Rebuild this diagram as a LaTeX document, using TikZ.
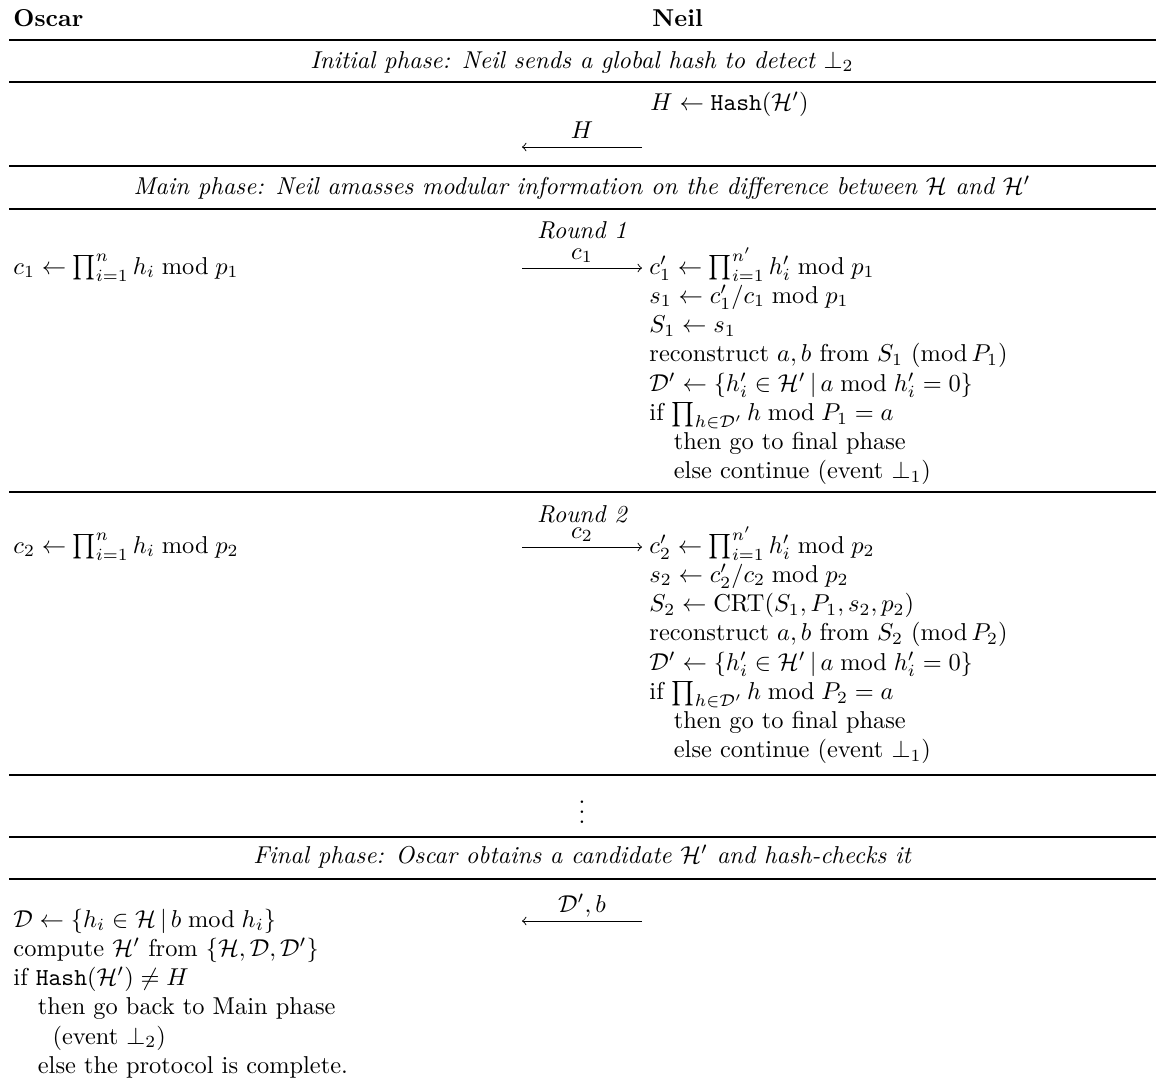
\documentclass[tikz,border=0pt]{standalone}
\usepackage{amsmath,amssymb}
\usetikzlibrary{positioning}

\tikzset{
  txt/.style={inner sep=0pt, anchor=base west},
  phase/.style={inner sep=0pt, anchor=base, font=\itshape},
  rule/.style={line width=0.6pt},
  msg/.style={->, line width=0.4pt},
  msglabel/.style={anchor=base, inner sep=0pt, yshift=3.6pt},
}
\newcommand{\Hset}{\mathcal{H}}
\newcommand{\Dset}{\mathcal{D}}
\newcommand{\hashfn}{\texttt{Hash}}

\begin{document}
\begin{tikzpicture}[x=0.4098pt, y=-0.4098pt]
    \useasboundingbox (0,0) rectangle (1156,1086);
    % rules
    \foreach \y in {40,82,166,209,492,775,837,879}
        \draw[rule] (9,\y) -- (1156,\y);
    % header
    \node[txt, font=\bfseries] (oscar) at (13,26) {Oscar};
    \node[txt, font=\bfseries] (neil) at (652,26) {Neil};
    % initial phase
    \node[phase] (initial) at (582,68) {Initial phase: Neil sends a global hash to detect $\bot_2$};
    \node[txt] (hashH) at (650,110) {$H \leftarrow \hashfn(\Hset')$};
    \coordinate (h0L) at (522,147);
    \coordinate (h0R) at (642,147);
    \draw[msg] (h0R) -- node[msglabel] {$H$} (h0L);
    % main phase
    \node[phase] (main) at (582,194) {Main phase: Neil amasses modular information on the difference between $\Hset$ and $\Hset'$};
    \node[phase] (round1) at (582,238) {Round 1};
    \node[txt] (oscar1) at (13,274) {$c_1 \leftarrow \prod_{i=1}^{n} h_i \bmod p_1$};
    \node[txt] (neil1) at (649,274) {\begin{tabular}[t]{@{}l@{}}
        $c_1' \leftarrow \prod_{i=1}^{n'} h_i' \bmod p_1$\\
        $s_1 \leftarrow c_1'/c_1 \bmod p_1$\\
        $S_1 \leftarrow s_1$\\
        reconstruct $a,b$ from $S_1\ (\mathrm{mod}\,P_1)$\\
        $\Dset' \leftarrow \{h_i' \in \Hset' \,|\, a \bmod h_i' = 0\}$\\
        if $\prod_{h\in\Dset'} h \bmod P_1 = a$\\
        \quad then go to final phase\\
        \quad else continue (event $\bot_1$)
    \end{tabular}};
    \coordinate (r1L) at (522,268);
    \coordinate (r1R) at (642,268);
    \draw[msg] (r1L) -- node[msglabel] {$c_1$} (r1R);
    \node[phase] (round2) at (582,522) {Round 2};
    \node[txt] (oscar2) at (13,553) {$c_2 \leftarrow \prod_{i=1}^{n} h_i \bmod p_2$};
    \node[txt] (neil2) at (649,553) {\begin{tabular}[t]{@{}l@{}}
        $c_2' \leftarrow \prod_{i=1}^{n'} h_i' \bmod p_2$\\
        $s_2 \leftarrow c_2'/c_2 \bmod p_2$\\
        $S_2 \leftarrow \mathrm{CRT}(S_1,P_1,s_2,p_2)$\\
        reconstruct $a,b$ from $S_2\ (\mathrm{mod}\,P_2)$\\
        $\Dset' \leftarrow \{h_i' \in \Hset' \,|\, a \bmod h_i' = 0\}$\\
        if $\prod_{h\in\Dset'} h \bmod P_2 = a$\\
        \quad then go to final phase\\
        \quad else continue (event $\bot_1$)
    \end{tabular}};
    \coordinate (r2L) at (522,547);
    \coordinate (r2R) at (642,547);
    \draw[msg] (r2L) -- node[msglabel] {$c_2$} (r2R);
    \node[inner sep=0pt, anchor=base] (more) at (582,823) {$\vdots$};
    % final phase
    \node[phase] (final) at (582,863) {Final phase: Oscar obtains a candidate $\Hset'$ and hash-checks it};
    \node[txt] (oscarfin) at (13,927) {\begin{tabular}[t]{@{}l@{}}
        $\Dset \leftarrow \{h_i \in \Hset \,|\, b \bmod h_i\}$\\
        compute $\Hset'$ from $\{\Hset, \Dset, \Dset'\}$\\
        if $\hashfn(\Hset') \neq H$\\
        \quad then go back to Main phase\\
        \hspace{16pt}(event $\bot_2$)\\
        \quad else the protocol is complete.
    \end{tabular}};
    \coordinate (fL) at (522,921);
    \coordinate (fR) at (642,921);
    \draw[msg] (fR) -- node[msglabel] {$\Dset', b$} (fL);
\end{tikzpicture}
\end{document}
